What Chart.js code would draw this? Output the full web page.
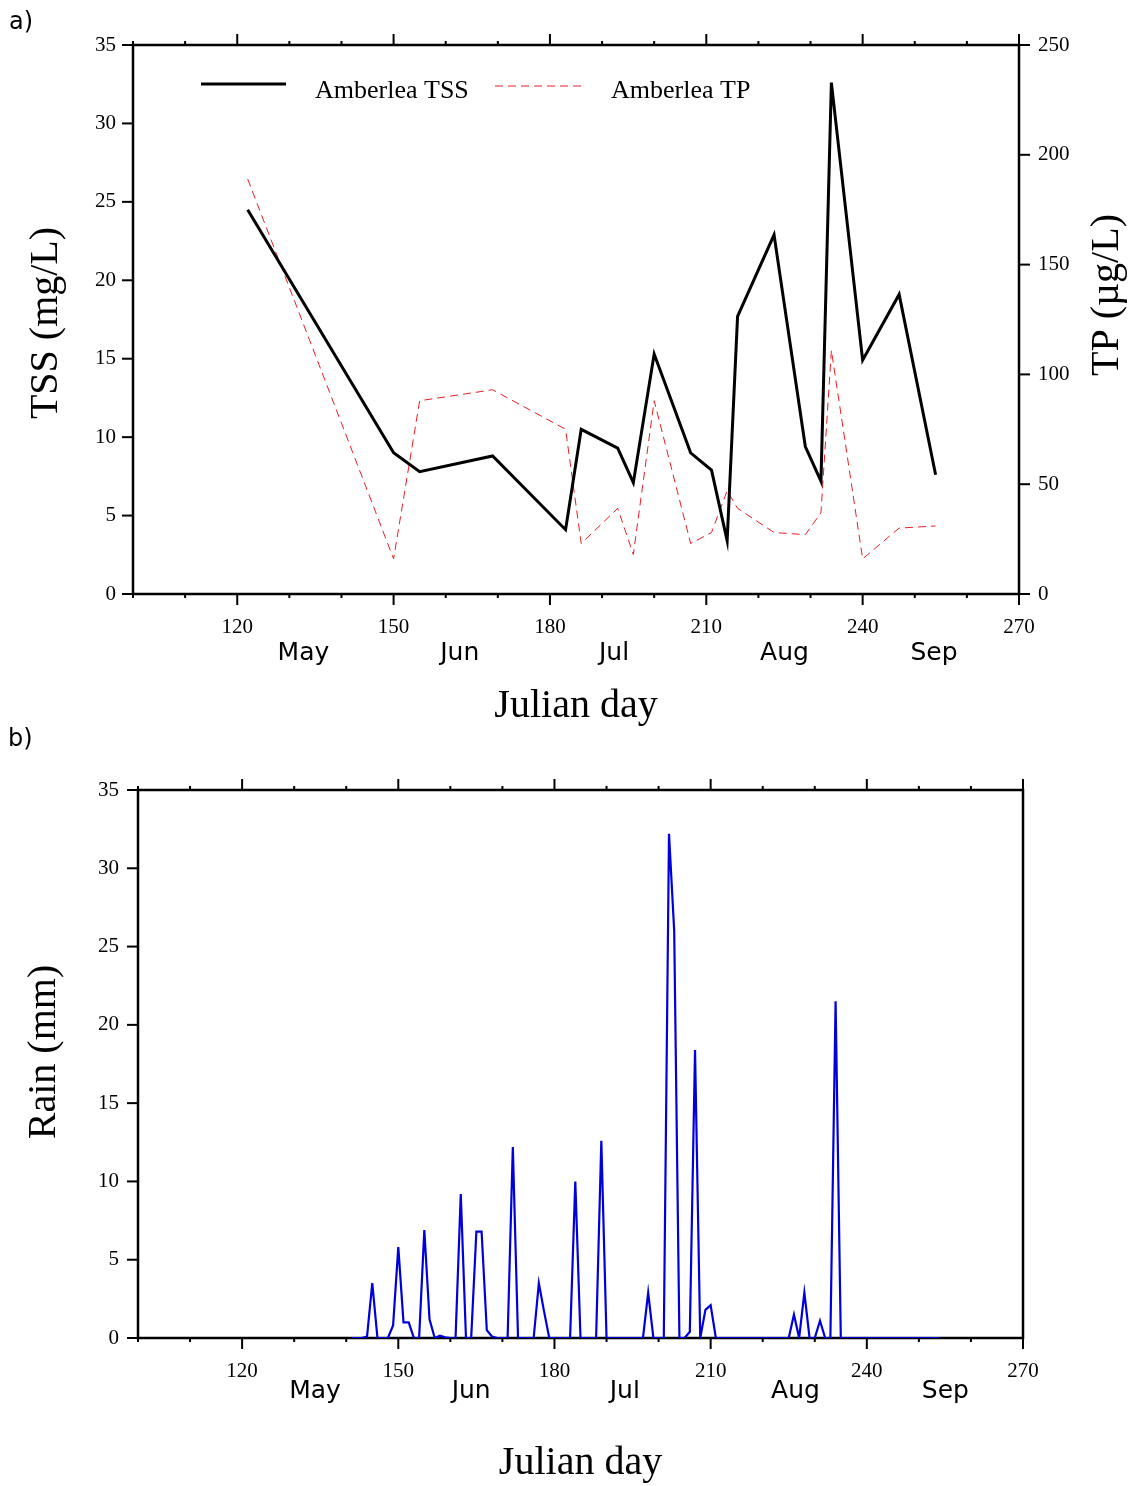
<!DOCTYPE html>
<html>
<head>
<meta charset="utf-8">
<script src="https://cdn.jsdelivr.net/npm/chart.js@4/dist/chart.umd.min.js"></script>
<style>
  html, body { margin: 0; padding: 0; background: #fff; }
  body { width: 1136px; height: 1486px; position: relative; overflow: hidden; }
  canvas { position: absolute; left: 0; }
  #chartA { top: 0; }
  #chartB { top: 715px; }
</style>
</head>
<body>
<canvas id="chartA" width="1136" height="735"></canvas>
<canvas id="chartB" width="1136" height="771"></canvas>
<script>
// panel a) sampling days and concentrations
const sampleDays = [122, 150, 155, 169, 183, 186, 193, 196, 200, 207, 211, 214, 216, 223, 229, 232, 234, 240, 247, 254];
const tssValues = [24.5, 9.0, 7.8, 8.8, 4.1, 10.5, 9.3, 7.1, 15.3, 9.0, 7.9, 3.4, 17.7, 22.9, 9.4, 7.2, 32.6, 14.9, 19.1, 7.6];
const tpValues = [189, 16, 88, 93, 75, 23, 39, 18, 88, 23, 28, 47, 39, 28, 27, 37, 111, 16, 30, 31];

// panel b) daily rain, one value per day starting at rainFirstDay
const rainFirstDay = 141;
const rainValues = [
  0, 0, 0, 0.1, 3.5, 0, 0, 0, 0.8, 5.8,
  1.0, 1.0, 0, 0, 6.9, 1.2, 0, 0.15, 0.05, 0,
  0, 9.2, 0, 0, 6.8, 6.8, 0.5, 0.1, 0, 0,
  0, 12.2, 0, 0, 0, 0, 3.5, 1.7, 0, 0,
  0, 0, 0, 10.0, 0, 0, 0, 0, 12.6, 0,
  0, 0, 0, 0, 0, 0, 0, 2.9, 0, 0,
  0, 32.2, 26.0, 0, 0, 0.4, 18.4, 0, 1.8, 2.1,
  0, 0, 0, 0, 0, 0, 0, 0, 0, 0,
  0, 0, 0, 0, 0, 1.5, 0, 2.9, 0, 0,
  1.1, 0, 0, 21.5, 0, 0, 0, 0, 0, 0,
  0, 0, 0, 0, 0, 0, 0, 0, 0, 0,
  0, 0, 0, 0
];

// axis ticks and month labels
const dayTicks = [120, 150, 180, 210, 240, 270];
const monthNames = ['May', 'Jun', 'Jul', 'Aug', 'Sep'];
const monthPosA = [132.7, 162.7, 192.3, 225, 253.7];
const monthPosB = [134, 164, 193.5, 226.3, 255.1];

const SERIF = "'Liberation Serif', 'Times New Roman', serif";
const SANS = "'DejaVu Sans', Verdana, sans-serif";
Chart.defaults.color = '#000';
Chart.defaults.font.family = SERIF;

function line(ctx, x1, y1, x2, y2) {
  ctx.beginPath();
  ctx.moveTo(x1, y1);
  ctx.lineTo(x2, y2);
  ctx.stroke();
}

// frame round the plot and outward tick marks
const framePlugin = {
  id: 'frame',
  beforeDatasetsDraw(chart) {
    const ctx = chart.ctx, a = chart.chartArea;
    ctx.save();
    ctx.strokeStyle = '#000';
    ctx.lineWidth = 2.5;
    ctx.strokeRect(a.left, a.top, a.right - a.left, a.bottom - a.top);
    ctx.lineWidth = 2;
    const xs = chart.scales.x;
    xs.ticks.forEach(t => {
      const px = xs.getPixelForValue(t.value);
      const len = dayTicks.includes(t.value) ? 11 : 4;
      line(ctx, px, a.bottom, px, a.bottom + len);
      line(ctx, px, a.top, px, a.top - len);
    });
    const ys = chart.scales.y;
    ys.ticks.forEach(t => {
      const py = ys.getPixelForValue(t.value);
      line(ctx, a.left - 11, py, a.left, py);
    });
    const y2 = chart.scales.y2;
    if (y2) {
      y2.ticks.forEach(t => {
        const py = y2.getPixelForValue(t.value);
        line(ctx, a.right, py, a.right + 11, py);
      });
    }
    ctx.restore();
  }
};

// free texts: rotated axis titles, panel letters, legend
const textPlugin = {
  id: 'texts',
  afterDraw(chart, args, opts) {
    const ctx = chart.ctx;
    ctx.save();
    ctx.fillStyle = '#000';
    (opts.items || []).forEach(it => {
      ctx.save();
      ctx.font = it.font;
      ctx.textAlign = it.align || 'left';
      ctx.textBaseline = 'alphabetic';
      ctx.translate(it.x, it.y);
      if (it.rotate) ctx.rotate(-Math.PI / 2);
      ctx.fillText(it.text, 0, 0);
      ctx.restore();
    });
    (opts.legend || []).forEach(lg => {
      const ds = chart.data.datasets[lg.dataset];
      ctx.save();
      ctx.strokeStyle = ds.borderColor;
      ctx.lineWidth = ds.borderWidth;
      ctx.setLineDash(ds.borderDash || []);
      line(ctx, lg.x1, lg.y, lg.x2, lg.y);
      ctx.restore();
      ctx.font = '26px ' + SERIF;
      ctx.textAlign = 'left';
      ctx.textBaseline = 'alphabetic';
      ctx.fillText(ds.label, lg.tx, lg.ty);
    });
    ctx.restore();
  }
};

function xScales(monthPos, numHeight, monthPad, monthHeight) {
  return {
    x: {
      type: 'linear', position: 'bottom', weight: 0,
      min: 100, max: 270,
      grid: { display: false, drawTicks: false },
      border: { display: false },
      ticks: {
        stepSize: 10, autoSkip: false, maxRotation: 0, padding: 23,
        font: { size: 21, family: SERIF, lineHeight: 1 },
        callback: v => dayTicks.includes(v) ? String(v) : ''
      },
      afterFit: s => { s.height = numHeight; }
    },
    xm: {
      type: 'linear', position: 'bottom', weight: 1,
      min: 100, max: 270,
      grid: { display: false, drawTicks: false },
      border: { display: false },
      afterBuildTicks: s => { s.ticks = monthPos.map(v => ({ value: v })); },
      ticks: {
        autoSkip: false, maxRotation: 0, padding: monthPad,
        font: { size: 25, family: SANS, lineHeight: 0.92 },
        callback: (v, i) => monthNames[i]
      },
      title: {
        display: true, text: 'Julian day',
        font: { size: 40, family: SERIF, lineHeight: 1 },
        padding: { top: 0, bottom: 0 }
      },
      afterFit: s => { s.height = monthHeight; }
    }
  };
}

new Chart(document.getElementById('chartA'), {
  type: 'line',
  data: {
    datasets: [
      {
        label: 'Amberlea TSS',
        data: sampleDays.map((d, i) => ({ x: d, y: tssValues[i] })),
        borderColor: '#000', borderWidth: 3,
        pointRadius: 0, tension: 0,
        xAxisID: 'x', yAxisID: 'y'
      },
      {
        label: 'Amberlea TP',
        data: sampleDays.map((d, i) => ({ x: d, y: tpValues[i] })),
        borderColor: 'rgb(232,30,36)', borderWidth: 1, borderDash: [8, 5],
        pointRadius: 0, tension: 0,
        xAxisID: 'x', yAxisID: 'y2'
      }
    ]
  },
  options: {
    responsive: false,
    animation: false,
    layout: { padding: { left: 0, top: 45, right: 0, bottom: 9 } },
    plugins: {
      legend: { display: false },
      tooltip: { enabled: false },
      texts: {
        items: [
          { text: 'a)', x: 9, y: 29, font: '24px ' + SANS },
          { text: 'TSS (mg/L)', x: 57, y: 323, rotate: true, align: 'center', font: '40px ' + SERIF },
          { text: 'TP (µg/L)', x: 1118, y: 295, rotate: true, align: 'center', font: '40px ' + SERIF }
        ],
        legend: [
          { dataset: 0, x1: 201, x2: 286, y: 84, tx: 315, ty: 97.5 },
          { dataset: 1, x1: 495, x2: 586, y: 86, tx: 611, ty: 97.5 }
        ]
      }
    },
    scales: Object.assign(xScales(monthPosA, 44, 4, 88), {
      y: {
        position: 'left', min: 0, max: 35,
        grid: { display: false, drawTicks: false },
        border: { display: false },
        ticks: { stepSize: 5, padding: 17, font: { size: 21, family: SERIF } },
        afterFit: s => { s.width = 133; }
      },
      y2: {
        position: 'right', min: 0, max: 250,
        grid: { display: false, drawTicks: false },
        border: { display: false },
        ticks: { stepSize: 50, padding: 19, font: { size: 21, family: SERIF } },
        afterFit: s => { s.width = 117; }
      }
    })
  },
  plugins: [framePlugin, textPlugin]
});

new Chart(document.getElementById('chartB'), {
  type: 'line',
  data: {
    datasets: [
      {
        label: 'Rain',
        data: rainValues.map((v, i) => ({ x: rainFirstDay + i, y: v })),
        borderColor: 'rgb(0,0,220)', borderWidth: 2.2,
        pointRadius: 0, tension: 0,
        xAxisID: 'x', yAxisID: 'y'
      }
    ]
  },
  options: {
    responsive: false,
    animation: false,
    layout: { padding: { left: 0, top: 75, right: 113, bottom: 3 } },
    plugins: {
      legend: { display: false },
      tooltip: { enabled: false },
      texts: {
        items: [
          { text: 'b)', x: 8, y: 31, font: '24px ' + SANS },
          { text: 'Rain (mm)', x: 55, y: 337, rotate: true, align: 'center', font: '40px ' + SERIF }
        ]
      }
    },
    scales: Object.assign(xScales(monthPosB, 42, 0, 103), {
      y: {
        position: 'left', min: 0, max: 35,
        grid: { display: false, drawTicks: false },
        border: { display: false },
        ticks: { stepSize: 5, padding: 19, font: { size: 21, family: SERIF } },
        afterFit: s => { s.width = 138; }
      }
    })
  },
  plugins: [framePlugin, textPlugin]
});
</script>
</body>
</html>
